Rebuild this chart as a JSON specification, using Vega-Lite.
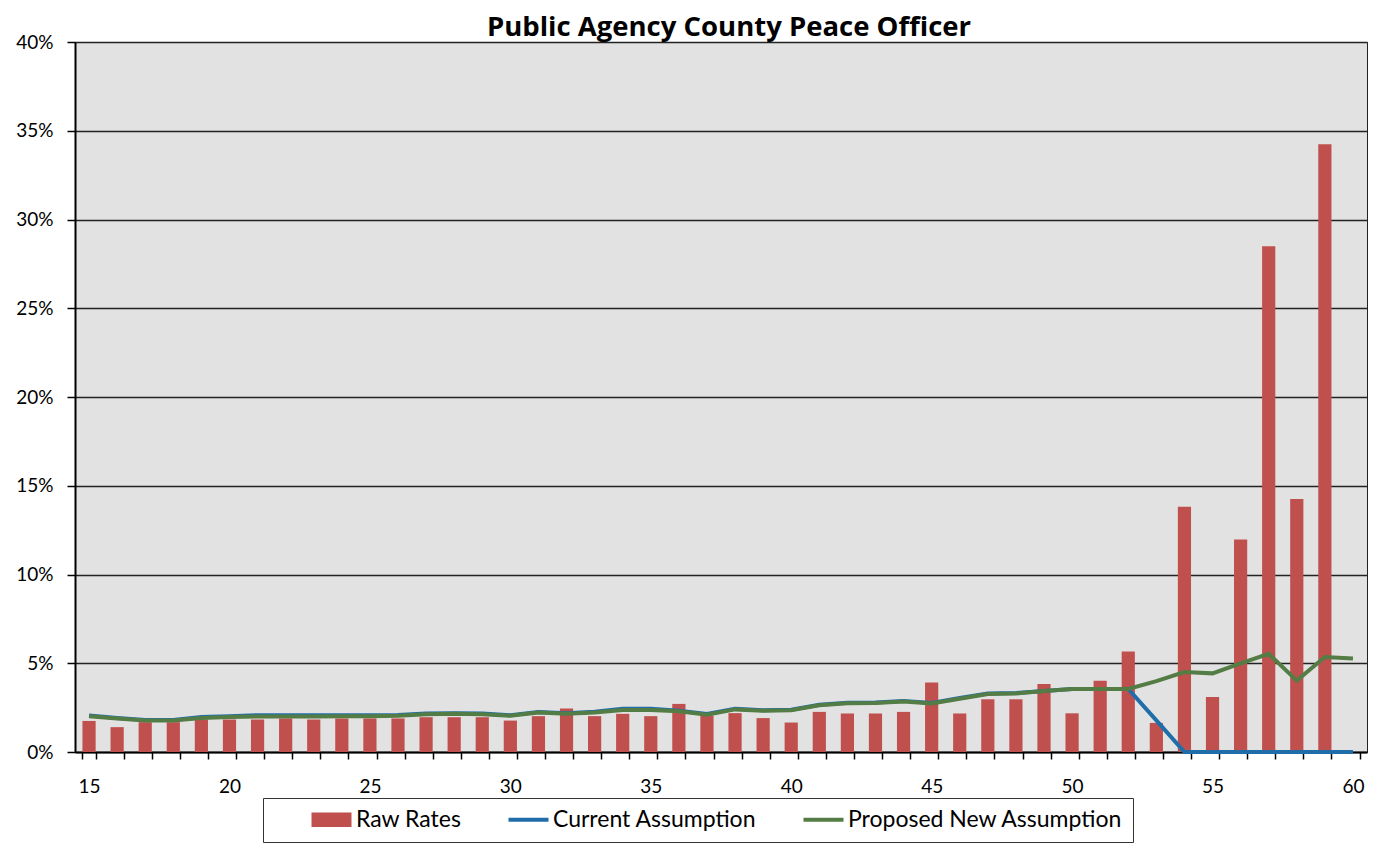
{
  "$schema": "https://vega.github.io/schema/vega-lite/v6.json",
  "autosize": {"type": "none"},
  "width": 1292,
  "height": 710,
  "padding": {"left": 75, "top": 42, "right": 18, "bottom": 92},
  "background": "white",
  "title": {"text": "Public Agency County Peace Officer", "font": "Open Sans", "fontSize": 27.5, "fontWeight": "bold", "color": "black", "anchor": "middle", "frame": "group", "offset": 6, "dy": 14, "dx": 8},
  "config": {
    "view": {"fill": "#E2E2E2", "stroke": "#222222", "strokeWidth": 1},
    "axis": {"labelFont": "Lato", "labelFontSize": 19, "labelColor": "black", "domainColor": "black", "tickColor": "black", "title": null}
  },
  "data": {"values": [
    {"age": 15, "raw": 0.0175, "current": 0.0205, "proposed": 0.0202},
    {"age": 16, "raw": 0.0140, "current": 0.0192, "proposed": 0.0189},
    {"age": 17, "raw": 0.0168, "current": 0.0180, "proposed": 0.0177},
    {"age": 18, "raw": 0.0168, "current": 0.0180, "proposed": 0.0177},
    {"age": 19, "raw": 0.0183, "current": 0.0197, "proposed": 0.0192},
    {"age": 20, "raw": 0.0183, "current": 0.0202, "proposed": 0.0197},
    {"age": 21, "raw": 0.0183, "current": 0.0207, "proposed": 0.0200},
    {"age": 22, "raw": 0.0189, "current": 0.0207, "proposed": 0.0200},
    {"age": 23, "raw": 0.0183, "current": 0.0207, "proposed": 0.0200},
    {"age": 24, "raw": 0.0189, "current": 0.0207, "proposed": 0.0202},
    {"age": 25, "raw": 0.0189, "current": 0.0207, "proposed": 0.0202},
    {"age": 26, "raw": 0.0189, "current": 0.0208, "proposed": 0.0204},
    {"age": 27, "raw": 0.0196, "current": 0.0217, "proposed": 0.0213},
    {"age": 28, "raw": 0.0196, "current": 0.0219, "proposed": 0.0215},
    {"age": 29, "raw": 0.0196, "current": 0.0217, "proposed": 0.0213},
    {"age": 30, "raw": 0.0177, "current": 0.0207, "proposed": 0.0204},
    {"age": 31, "raw": 0.0202, "current": 0.0226, "proposed": 0.0222},
    {"age": 32, "raw": 0.0245, "current": 0.0218, "proposed": 0.0215},
    {"age": 33, "raw": 0.0202, "current": 0.0227, "proposed": 0.0223},
    {"age": 34, "raw": 0.0215, "current": 0.0243, "proposed": 0.0237},
    {"age": 35, "raw": 0.0202, "current": 0.0243, "proposed": 0.0237},
    {"age": 36, "raw": 0.0271, "current": 0.0233, "proposed": 0.0230},
    {"age": 37, "raw": 0.0205, "current": 0.0214, "proposed": 0.0210},
    {"age": 38, "raw": 0.0219, "current": 0.0244, "proposed": 0.0240},
    {"age": 39, "raw": 0.0191, "current": 0.0235, "proposed": 0.0232},
    {"age": 40, "raw": 0.0166, "current": 0.0238, "proposed": 0.0235},
    {"age": 41, "raw": 0.0226, "current": 0.0266, "proposed": 0.0263},
    {"age": 42, "raw": 0.0217, "current": 0.0278, "proposed": 0.0275},
    {"age": 43, "raw": 0.0217, "current": 0.0279, "proposed": 0.0276},
    {"age": 44, "raw": 0.0226, "current": 0.0288, "proposed": 0.0285},
    {"age": 45, "raw": 0.0392, "current": 0.0276, "proposed": 0.0273},
    {"age": 46, "raw": 0.0217, "current": 0.0304, "proposed": 0.0300},
    {"age": 47, "raw": 0.0297, "current": 0.0330, "proposed": 0.0327},
    {"age": 48, "raw": 0.0297, "current": 0.0332, "proposed": 0.0330},
    {"age": 49, "raw": 0.0383, "current": 0.0344, "proposed": 0.0343},
    {"age": 50, "raw": 0.0218, "current": 0.0355, "proposed": 0.0355},
    {"age": 51, "raw": 0.0401, "current": 0.0355, "proposed": 0.0355},
    {"age": 52, "raw": 0.0566, "current": 0.0355, "proposed": 0.0355},
    {"age": 53, "raw": 0.0164, "current": 0.0178, "proposed": 0.0399},
    {"age": 54, "raw": 0.1382, "current": 0, "proposed": 0.0450},
    {"age": 55, "raw": 0.0310, "current": 0, "proposed": 0.0443},
    {"age": 56, "raw": 0.1197, "current": 0, "proposed": 0.0499},
    {"age": 57, "raw": 0.2849, "current": 0, "proposed": 0.0553},
    {"age": 58, "raw": 0.1425, "current": 0, "proposed": 0.0402},
    {"age": 59, "raw": 0.3424, "current": 0, "proposed": 0.0535},
    {"age": 60, "raw": null, "current": 0, "proposed": 0.0527}
  ]},
  "encoding": {
    "x": {
      "field": "age", "type": "ordinal",
      "scale": {"paddingInner": 0.53, "paddingOuter": 0.265},
      "axis": {"labelAngle": 0, "labelExpr": "datum.value % 5 === 0 ? datum.label : ''", "tickBand": "extent", "tickSize": 7, "tickWidth": 1.5, "domainWidth": 2, "labelPadding": 18, "grid": false}
    }
  },
  "layer": [
    {
      "mark": {"type": "bar"},
      "encoding": {
        "y": {"field": "raw", "type": "quantitative", "scale": {"domain": [0, 0.4], "nice": false},
          "axis": {"values": [0, 0.05, 0.1, 0.15, 0.2, 0.25, 0.3, 0.35, 0.4], "format": ".0%", "grid": true, "gridColor": "#222222", "gridWidth": 1.5, "tickSize": 8, "tickWidth": 1.5, "labelPadding": 14, "domainWidth": 2}},
        "color": {
          "datum": "Raw Rates",
          "scale": {"domain": ["Raw Rates", "Current Assumption", "Proposed New Assumption"], "range": ["#C0504D", "#1F6EAA", "#537D45"]},
          "legend": {
            "orient": "none", "legendX": 188, "legendY": 756, "direction": "horizontal", "title": null,
            "strokeColor": "#333333", "padding": 10, "symbolSize": 1600,
            "labelFont": "Lato", "labelFontSize": 23, "labelColor": "black", "labelLimit": 500,
            "labelExpr": "datum.value === 'Proposed New Assumption' ? datum.label + '\u2003\u2003' : datum.label",
            "columnPadding": 8, "symbolOffset": 47, "labelOffset": 13,
            "encode": {"symbols": {"update": {
              "shape": {"signal": "datum.value === 'Raw Rates' ? 'M-1,-0.36H1V0.36H-1Z' : 'stroke'"},
              "fill": {"signal": "datum.value === 'Raw Rates' ? '#C0504D' : 'transparent'"},
              "stroke": {"signal": "datum.value === 'Raw Rates' ? '#C0504D' : (datum.value === 'Current Assumption' ? '#1F6EAA' : '#537D45')"},
              "strokeWidth": {"signal": "datum.value === 'Raw Rates' ? 0 : 4"},
              "opacity": {"value": 1}
            }}}
          }
        }
      }
    },
    {
      "mark": {"type": "line", "strokeWidth": 4},
      "encoding": {
        "y": {"field": "current", "type": "quantitative"},
        "color": {"datum": "Current Assumption"}
      }
    },
    {
      "mark": {"type": "line", "strokeWidth": 4},
      "encoding": {
        "y": {"field": "proposed", "type": "quantitative"},
        "color": {"datum": "Proposed New Assumption"}
      }
    }
  ]
}
